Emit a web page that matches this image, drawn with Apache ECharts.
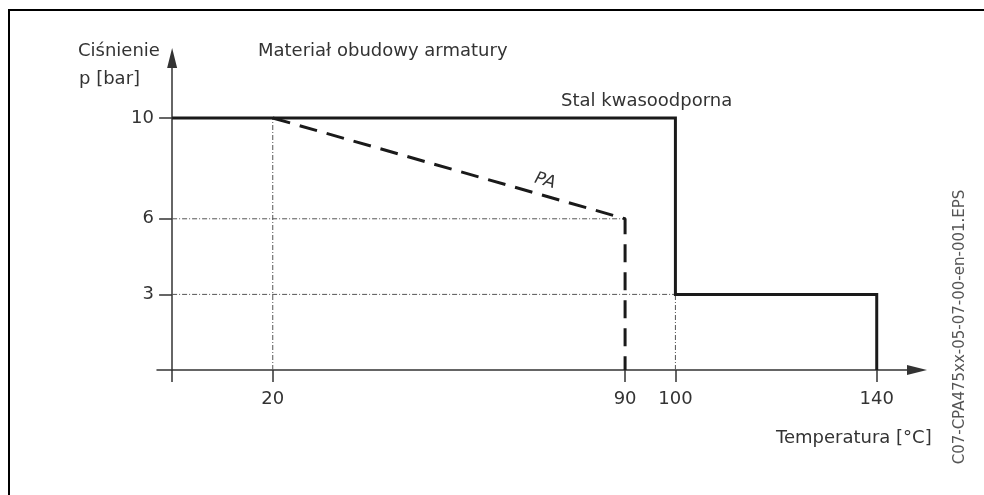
<!DOCTYPE html>
<html>
<head>
<meta charset="utf-8">
<script src="https://cdn.jsdelivr.net/npm/echarts@6/dist/echarts.min.js"></script>
<style>
  html, body { margin: 0; padding: 0; background: #ffffff; }
  #chart { width: 984px; height: 495px; }
</style>
</head>
<body>
<div id="chart"></div>
<script>
// stal kwasoodporna (steel) line
var steelTemp = [0, 100, 100, 140, 140];
var steelPress = [10, 10, 3, 3, 0];
// PA line
var paTemp = [20, 90, 90];
var paPress = [10, 6, 0];
// dash-dot helper lines
var guideTemp = [[20, 20], [0, 90], [0, 100], [100, 100]];
var guidePress = [[0, 10], [6, 6], [3, 3], [0, 3]];
// axis ticks / labels
var xTicks = [0, 20, 90, 100, 140];
var xLabels = [20, 90, 100, 140];
var yTicks = [3, 6, 10];

var chart = echarts.init(document.getElementById('chart'));

function pairs(xs, ys) {
  var out = [];
  for (var i = 0; i < xs.length; i++) {
    out.push([xs[i], ys[i]]);
  }
  return out;
}

var textColor = '#333333';
var font = 'DejaVu Sans';

var series = [];
// guide lines first so the thick lines sit on top
for (var g = 0; g < guideTemp.length; g++) {
  series.push({
    type: 'line',
    data: pairs(guideTemp[g], guidePress[g]),
    symbol: 'none',
    silent: true,
    lineStyle: { color: '#555555', width: 1, type: [5, 2, 1, 2] },
    z: 1
  });
}
series.push({
  name: 'Stal kwasoodporna',
  type: 'line',
  data: pairs(steelTemp, steelPress),
  symbol: 'none',
  lineStyle: { color: '#1a1a1a', width: 3, cap: 'butt', join: 'miter' },
  z: 3
});
series.push({
  name: 'PA',
  type: 'line',
  data: pairs(paTemp, paPress),
  symbol: 'none',
  lineStyle: { color: '#1a1a1a', width: 3, type: [18, 10], cap: 'butt' },
  z: 3
});

var option = {
  animation: false,
  backgroundColor: '#ffffff',
  grid: {
    left: 157,
    right: 67,
    top: 58,
    bottom: 125,
    containLabel: false
  },
  xAxis: {
    type: 'value',
    min: -3,
    max: 148,
    splitLine: { show: false },
    axisLine: {
      onZero: true,
      symbol: ['none', 'triangle'],
      symbolSize: [10, 20],
      lineStyle: { color: '#333333', width: 1.5 }
    },
    axisTick: {
      show: true,
      inside: false,
      length: 12,
      customValues: xTicks,
      lineStyle: { color: '#333333', width: 1.5 }
    },
    axisLabel: {
      customValues: xLabels,
      margin: 20,
      color: textColor,
      fontFamily: font,
      fontSize: 18
    }
  },
  yAxis: {
    type: 'value',
    min: 0,
    max: 12.38,
    splitLine: { show: false },
    axisLine: {
      onZero: true,
      symbol: ['none', 'triangle'],
      symbolSize: [10, 20],
      lineStyle: { color: '#333333', width: 1.5 }
    },
    axisTick: {
      show: true,
      length: 13,
      customValues: yTicks,
      lineStyle: { color: '#333333', width: 1.5 }
    },
    axisLabel: {
      customValues: yTicks,
      margin: 3,
      color: textColor,
      fontFamily: font,
      fontSize: 18
    }
  },
  graphic: [
    {
      type: 'rect',
      shape: { x: 9, y: 10, width: 1100, height: 600 },
      style: { fill: 'none', stroke: '#000000', lineWidth: 2 },
      silent: true
    },
    {
      type: 'text', left: 78, top: 42,
      style: { text: 'Ciśnienie', fill: textColor, font: '18px "DejaVu Sans"' }
    },
    {
      type: 'text', left: 79, top: 70,
      style: { text: 'p [bar]', fill: textColor, font: '18px "DejaVu Sans"' }
    },
    {
      type: 'text', left: 258, top: 42,
      style: { text: 'Materiał obudowy armatury', fill: textColor, font: '18px "DejaVu Sans"' }
    },
    {
      type: 'text', left: 561, top: 92,
      style: { text: 'Stal kwasoodporna', fill: textColor, font: '18px "DejaVu Sans"' }
    },
    {
      type: 'text', x: 545, y: 181, rotation: -0.28,
      style: { text: 'PA', fill: textColor, font: 'italic 17px "DejaVu Sans"', align: 'center', verticalAlign: 'middle' }
    },
    {
      type: 'text', left: 776, top: 429,
      style: { text: 'Temperatura [°C]', fill: textColor, font: '18px "DejaVu Sans"' }
    },
    {
      type: 'text', x: 960, y: 327, rotation: Math.PI / 2,
      style: { text: 'C07-CPA475xx-05-07-00-en-001.EPS', fill: '#555555', font: '15px "DejaVu Sans"', align: 'center', verticalAlign: 'middle' }
    }
  ],
  series: series
};

chart.setOption(option);
window.addEventListener('resize', function () {
  chart.resize();
});
</script>
</body>
</html>
